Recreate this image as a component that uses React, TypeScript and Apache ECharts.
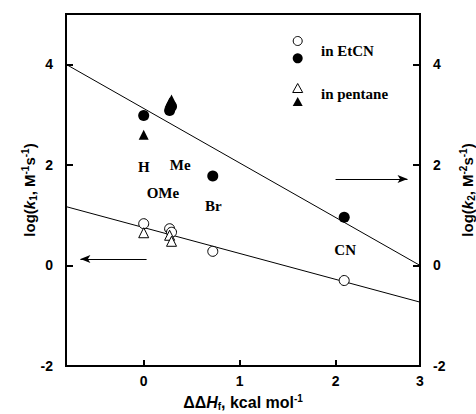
import React, { useEffect, useRef } from "react";
import * as echarts from "echarts";

// Substituent effect on rate constants: log k vs ΔΔHf
const xMin = -0.81;
const xMax = 2.88;
const yMin = -2;
const yMax = 5;

const xTickValues = [0, 1, 2];
const yTickValues = [-2, 0, 2, 4];

// log k1 (left axis) — open symbols
const etcnK1X = [0, 0.27, 0.29, 0.72, 2.09];
const etcnK1Y = [0.83, 0.73, 0.66, 0.28, -0.3];
const pentaneK1X = [0, 0.27, 0.29];
const pentaneK1Y = [0.65, 0.6, 0.48];

// log k2 (right axis) — filled symbols
const etcnK2X = [0, 0.27, 0.29, 0.72, 2.09];
const etcnK2Y = [2.98, 3.08, 3.16, 1.78, 0.96];
const pentaneK2X = [0, 0.27, 0.29];
const pentaneK2Y = [2.6, 3.24, 3.3];

// least-squares lines, drawn across the plot
const fitK2 = [
  [xMin, 4.0],
  [xMax, 0.0],
];
const fitK1 = [
  [xMin, 1.17],
  [xMax, -0.73],
];

// substituent tags placed in data coordinates
const tagNames = ["H", "Me", "OMe", "Br", "CN"];
const tagX = [0, 0.38, 0.2, 0.725, 2.1];
const tagY = [1.95, 2.0, 1.44, 1.18, 0.3];

// arrows pointing to the axis each line belongs to
const arrowK2 = [
  [2.0, 1.72],
  [2.75, 1.72],
];
const arrowK1 = [
  [0.03, 0.13],
  [-0.66, 0.13],
];

const zip = (xs: number[], ys: number[]) => xs.map((x, i) => [x, ys[i]]);

const sans = "Liberation Sans, Arial, Helvetica, sans-serif";
const serif = "Liberation Serif, Times New Roman, serif";

const makeRich = (size: number) => ({
  it: { fontFamily: sans, fontSize: size, fontWeight: "bold", fontStyle: "italic", color: "#000" },
  sub: { fontFamily: sans, fontSize: 10, fontWeight: "bold", color: "#000", padding: [8, 0, 0, 0] },
  sup: { fontFamily: sans, fontSize: 10, fontWeight: "bold", color: "#000", padding: [0, 0, 8, 0] },
});

const axisLineStyle = { color: "#000", width: 2 };

export default function App() {
  const ref = useRef<HTMLDivElement>(null);

  useEffect(() => {
    document.body.style.margin = "0";
    const chart = echarts.init(ref.current!, null, { renderer: "svg" });

    const yAxisBase = (position: "left" | "right", name: string, gap: number) => ({
      type: "value",
      position,
      min: yMin,
      max: yMax,
      interval: 2,
      name,
      nameLocation: "middle",
      nameRotate: 90,
      nameGap: gap,
      nameMoveOverlap: false,
      nameTextStyle: { fontFamily: sans, fontSize: 15, fontWeight: "bold", color: "#000", rich: makeRich(15) },
      axisLine: { show: true, onZero: false, lineStyle: axisLineStyle },
      axisTick: { show: true, inside: true, length: 7, customValues: yTickValues, lineStyle: axisLineStyle },
      axisLabel: {
        customValues: yTickValues,
        margin: 13,
        fontFamily: sans,
        fontSize: 14,
        fontWeight: "bold",
        color: "#000",
      },
      splitLine: { show: false },
    });

    const scatter = (data: number[][], symbol: string, filled: boolean, size: number, yAxisIndex: number) => ({
      type: "scatter",
      yAxisIndex,
      symbol,
      symbolSize: size,
      data,
      z: 5,
      itemStyle: filled
        ? { color: "#000", borderColor: "#000", borderWidth: 0, opacity: 1 }
        : { color: "#fff", borderColor: "#000", borderWidth: 1, opacity: 1 },
    });

    chart.setOption({
      animation: false,
      backgroundColor: "#fff",
      grid: {
        left: 66,
        top: 14,
        right: 56,
        bottom: 48,
        show: true,
        borderColor: "#000",
        borderWidth: 2,
        containLabel: false,
        outerBoundsMode: "none",
      },
      xAxis: {
        type: "value",
        min: xMin,
        max: xMax,
        name: "ΔΔ{it|H}{sub|f}, kcal mol{sup|-1}",
        nameLocation: "middle",
        nameGap: 27,
        nameMoveOverlap: false,
        nameTextStyle: { fontFamily: sans, fontSize: 16, fontWeight: "bold", color: "#000", rich: makeRich(16) },
        axisLine: { show: true, onZero: false, lineStyle: axisLineStyle },
        axisTick: { show: true, inside: true, length: 6, customValues: xTickValues, lineStyle: axisLineStyle },
        axisLabel: {
          customValues: [...xTickValues, xMax],
          formatter: (v: number) => String(Math.round(v)),
          margin: 8,
          fontFamily: sans,
          fontSize: 14,
          fontWeight: "bold",
          color: "#000",
        },
        splitLine: { show: false },
      },
      yAxis: [
        yAxisBase("left", "log({it|k}{sub|1}, M{sup|-1}s{sup|-1})", 28),
        yAxisBase("right", "log({it|k}{sub|2}, M{sup|-2}s{sup|-1})", 38),
      ],
      series: [
        {
          type: "line",
          data: fitK2,
          yAxisIndex: 1,
          symbol: "none",
          lineStyle: { color: "#000", width: 1 },
          z: 2,
          markLine: {
            silent: true,
            symbol: ["none", "arrow"],
            symbolSize: [6, 10],
            label: { show: false },
            lineStyle: { color: "#000", width: 1, type: "solid" },
            data: [
              [{ coord: arrowK2[0] }, { coord: arrowK2[1] }],
              [{ coord: arrowK1[0] }, { coord: arrowK1[1] }],
            ],
          },
        },
        {
          type: "line",
          data: fitK1,
          yAxisIndex: 0,
          symbol: "none",
          lineStyle: { color: "#000", width: 1 },
          z: 2,
        },
        scatter(zip(etcnK1X, etcnK1Y), "circle", false, 10, 0),
        scatter(zip(pentaneK1X, pentaneK1Y), "triangle", false, 10, 0),
        scatter(zip(etcnK2X, etcnK2Y), "circle", true, 11, 1),
        scatter(zip(pentaneK2X, pentaneK2Y), "triangle", true, 10, 1),
        {
          type: "scatter",
          yAxisIndex: 0,
          symbolSize: 1,
          itemStyle: { color: "transparent", opacity: 1 },
          z: 6,
          data: tagNames.map((n, i) => ({ name: n, value: [tagX[i], tagY[i]] })),
          label: {
            show: true,
            position: "inside",
            formatter: "{b}",
            fontFamily: serif,
            fontSize: 15,
            fontWeight: "bold",
            color: "#000",
            opacity: 1,
            textBorderWidth: 0,
            textBorderColor: "transparent",
          },
        },
      ],
      graphic: [
        { type: "circle", shape: { cx: 297.7, cy: 41, r: 4.5 }, style: { fill: "#fff", stroke: "#000", lineWidth: 1 } },
        { type: "circle", shape: { cx: 297.7, cy: 58.3, r: 5 }, style: { fill: "#000" } },
        {
          type: "text",
          x: 321,
          y: 51,
          style: { text: "in EtCN", font: `bold 15px ${serif}`, fill: "#000", verticalAlign: "middle" },
        },
        {
          type: "polygon",
          shape: { points: [[297.7, 83.5], [302.7, 92.5], [292.7, 92.5]] },
          style: { fill: "#fff", stroke: "#000", lineWidth: 1 },
        },
        {
          type: "polygon",
          shape: { points: [[297.7, 97], [302.7, 106], [292.7, 106]] },
          style: { fill: "#000" },
        },
        {
          type: "text",
          x: 321,
          y: 94,
          style: { text: "in pentane", font: `bold 15px ${serif}`, fill: "#000", verticalAlign: "middle" },
        },
      ],
    });

    return () => chart.dispose();
  }, []);

  return <div ref={ref} style={{ width: 476, height: 414 }} />;
}
